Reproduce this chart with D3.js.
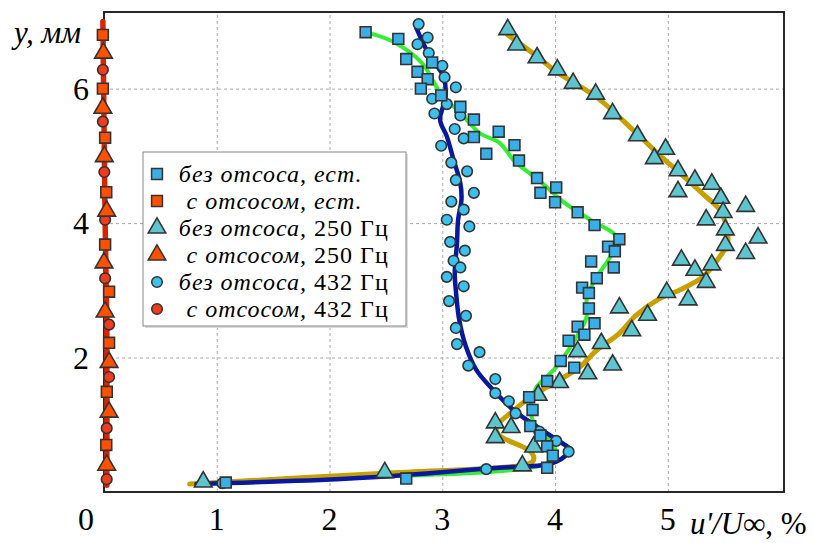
<!DOCTYPE html>
<html>
<head>
<meta charset="utf-8">
<script src="https://cdn.jsdelivr.net/npm/d3@7"></script>
<style>
  body { margin: 0; background: #fff; }
  svg { display: block; font-family: "Liberation Serif", "DejaVu Serif", serif; }
</style>
</head>
<body>
<div id="plot"></div>
<script>
// без отсоса, естественные пульсации (квадраты) и аппроксимация
var sqNoSuct = [[2.32,6.84],[2.61,6.74],[2.68,6.44],[2.91,6.39],[2.78,6.25],[2.87,6.14],[2.81,6.00],
  [2.99,5.90],[3.16,5.73],[3.28,5.54],[3.50,5.36],[3.28,5.28],[3.39,5.03],[3.64,5.16],[3.68,4.93],
  [3.84,4.67],[3.87,4.45],[4.01,4.53],[4.00,4.31],[4.20,4.16],[4.35,3.97],[4.57,3.76],[4.47,3.65],
  [4.53,3.58],[4.32,3.43],[4.52,3.34],[4.37,3.18],[4.24,3.04],[4.30,2.96],[4.30,2.73],[4.35,2.51],
  [4.20,2.46],[4.26,2.34],[4.12,2.25],[4.05,1.95],[4.17,1.85],[3.93,1.65],[3.77,1.41],[3.80,1.22],
  [3.78,0.98],[3.87,0.84],[3.93,0.68],[3.98,0.54],[3.93,0.36],[2.68,0.20],[1.08,0.14]];
var fitNat = [[2.32,6.84],[2.56,6.70],[2.82,6.38],[2.92,6.11],[2.99,5.91],[3.16,5.64],[3.33,5.34],
  [3.51,5.19],[3.64,4.92],[3.87,4.62],[4.07,4.32],[4.31,4.05],[4.55,3.78],[4.49,3.50],[4.35,3.15],
  [4.28,2.86],[4.28,2.61],[4.22,2.39],[4.01,1.86],[3.84,1.57],[3.79,1.37],[3.80,1.07],[3.87,0.92],
  [3.95,0.77],[4.01,0.58],[3.93,0.43],[2.18,0.21],[0.76,0.12]];

// без отсоса, 250 Гц (треугольники)
var triNoSuct = [[3.58,6.88],[3.66,6.65],[3.84,6.46],[4.02,6.28],[4.16,6.08],[4.36,5.92],[4.51,5.63],
  [4.73,5.30],[4.98,5.10],[4.88,4.96],[5.09,4.78],[5.24,4.64],[5.39,4.58],[5.09,4.47],[5.47,4.37],
  [5.49,4.16],[5.69,4.25],[5.34,4.05],[5.51,3.90],[5.80,3.78],[5.51,3.67],[5.69,3.55],[5.12,3.45],
  [5.39,3.38],[5.24,3.30],[5.34,3.12],[4.99,2.97],[4.57,2.74],[5.18,2.86],[4.82,2.63],[4.68,2.40],
  [4.41,2.21],[4.20,2.09],[4.51,1.89],[4.29,1.76],[4.04,1.63],[3.85,1.44],[3.47,1.03],[3.61,0.96],
  [3.47,0.81],[3.81,0.67],[3.71,0.39],[2.49,0.29],[0.88,0.15]];
var fit250 = [[3.58,6.80],[3.84,6.48],[4.01,6.25],[4.37,5.87],[4.72,5.34],[4.94,4.99],[5.11,4.74],
  [5.34,4.39],[5.46,4.20],[5.52,3.95],[5.53,3.70],[5.46,3.50],[5.31,3.20],[5.11,3.01],[4.93,2.88],
  [4.72,2.63],[4.57,2.36],[4.37,2.11],[4.22,1.86],[4.01,1.64],[3.79,1.42],[3.63,1.21],[3.48,0.97],
  [3.50,0.85],[3.76,0.63],[3.81,0.53],[3.80,0.45],[3.72,0.40],[2.49,0.28],[0.76,0.12]];

// без отсоса, 432 Гц (кружки)
var cirNoSuct = [[2.79,6.96],[2.87,6.76],[2.78,6.66],[2.88,6.53],[3.00,6.34],[3.02,6.17],[3.12,6.02],
  [2.91,5.85],[3.04,5.77],[2.93,5.63],[3.16,5.60],[3.11,5.40],[3.19,5.26],[2.99,5.15],[3.08,4.90],
  [3.22,4.77],[3.12,4.64],[3.28,4.45],[3.08,4.32],[3.19,4.20],[3.04,4.05],[3.24,3.95],[3.07,3.72],
  [3.20,3.59],[3.10,3.44],[3.16,3.34],[3.04,3.20],[3.19,3.06],[3.06,2.84],[3.21,2.62],[3.12,2.44],
  [3.13,2.20],[3.33,2.08],[3.23,1.88],[3.47,1.68],[3.47,1.47],[3.59,1.35],[3.65,1.17],[3.86,0.90],
  [4.01,0.76],[4.12,0.60],[3.39,0.34],[1.05,0.13]];
var fit432 = [[2.77,6.90],[2.89,6.48],[3.01,6.18],[3.03,5.88],[2.98,5.54],[3.04,5.29],[3.10,4.94],
  [3.16,4.59],[3.17,4.35],[3.14,4.05],[3.13,3.70],[3.11,3.25],[3.12,3.00],[3.15,2.56],[3.21,2.16],
  [3.30,1.82],[3.45,1.52],[3.63,1.22],[3.84,0.97],[3.95,0.85],[4.07,0.72],[4.13,0.63],[4.01,0.45],
  [3.39,0.35],[2.18,0.20],[0.82,0.12]];

// с отсосом (все режимы)
var sqSuct = [[-0.01,6.80],[-0.01,6.00],[0.01,5.27],[0.02,4.46],[0.01,3.68],[0.045,2.98],[0.045,2.22],[0.025,1.49],[0.02,0.70]];
var triSuct = [[-0.005,6.53],[-0.01,5.71],[0.003,4.99],[0.024,4.18],[0.0,3.41],[0.01,2.68],[0.045,1.93],[0.045,1.19],[0.024,0.40]];
var cirSuct = [[-0.01,6.28],[-0.01,5.51],[0.003,4.76],[0.01,4.05],[0.01,3.18],[0.045,2.49],[0.045,1.71],[0.024,0.95],[0.024,0.19]];
var fitSuct = [[-0.01,7.0],[0.0,5.5],[0.01,4.0],[0.025,2.5],[0.025,0.1]];

var xTicks = [1, 2, 3, 4, 5];
var yTicks = [2, 4, 6];
var legendHead = ["без отсоса,", "с отсосом,", "без отсоса,", "с отсосом,", "без отсоса,", "с отсосом,"];
var legendTail = ["ест.", "ест.", "250 Гц", "250 Гц", "432 Гц", "432 Гц"];

var W = 813, H = 543;
var pL = 104, pR = 784, pT = 12, pB = 492;

var x = d3.scaleLinear().domain([0, 6.03]).range([pL, pR]);
var y = d3.scaleLinear().domain([0, 7.14]).range([pB, pT]);

var svg = d3.select("#plot").append("svg")
  .attr("width", W)
  .attr("height", H);

// сетка
svg.append("g")
  .attr("transform", "translate(0," + pB + ")")
  .call(d3.axisBottom(x).tickValues(xTicks).tickSize(-(pB - pT)).tickFormat(""))
  .call(function(g){ g.select(".domain").remove(); })
  .selectAll("line")
  .attr("stroke", "#aaa")
  .attr("stroke-dasharray", "3,3");
svg.append("g")
  .attr("transform", "translate(" + pL + ",0)")
  .call(d3.axisLeft(y).tickValues(yTicks).tickSize(-(pR - pL)).tickFormat(""))
  .call(function(g){ g.select(".domain").remove(); })
  .selectAll("line")
  .attr("stroke", "#aaa")
  .attr("stroke-dasharray", "3,3");

// рамка
svg.append("rect")
  .attr("x", pL).attr("y", pT)
  .attr("width", pR - pL).attr("height", pB - pT)
  .attr("fill", "none")
  .attr("stroke", "#111")
  .attr("stroke-width", 1.8);

// подписи осей
svg.selectAll(".xlab")
  .data(xTicks)
  .enter()
  .append("text")
  .attr("x", function(d){ return x(d); })
  .attr("y", 530)
  .attr("text-anchor", "middle")
  .style("font-size", "32px")
  .text(function(d){ return d; });
svg.append("text")
  .attr("x", 86).attr("y", 530)
  .attr("text-anchor", "middle")
  .style("font-size", "32px")
  .text("0");
svg.selectAll(".ylab")
  .data(yTicks)
  .enter()
  .append("text")
  .attr("x", 89)
  .attr("y", function(d){ return y(d) + 11; })
  .attr("text-anchor", "end")
  .style("font-size", "32px")
  .text(function(d){ return d; });

svg.append("text")
  .attr("x", 14).attr("y", 43)
  .style("font-size", "31px")
  .style("font-style", "italic")
  .text("y, мм");

var xl = svg.append("text")
  .attr("x", 690).attr("y", 534)
  .style("font-size", "31px");
xl.append("tspan").style("font-style", "italic").text("u'/U∞");
xl.append("tspan").text(", %");

// линии аппроксимации
var line = d3.line()
  .x(function(d){ return x(d[0]); })
  .y(function(d){ return y(d[1]); })
  .curve(d3.curveCatmullRom.alpha(0.5));

function drawLine(data, color, w){
  svg.append("path")
    .datum(data)
    .attr("d", line)
    .attr("fill", "none")
    .attr("stroke", color)
    .attr("stroke-width", w)
    .attr("stroke-linejoin", "round")
    .attr("stroke-linecap", "round");
}
drawLine(fitNat, "#33ee33", 4);
drawLine(fit250, "#c8a000", 5);
drawLine(fit432, "#0818a0", 4.5);
drawLine(fitSuct, "#dd2200", 5.5);

// маркеры
var symSq = d3.symbol().type(d3.symbolSquare).size(118);
var symTri = d3.symbol().type(d3.symbolTriangle).size(135);
var symCir = d3.symbol().type(d3.symbolCircle).size(88);

function drawPts(data, sym, fill){
  svg.selectAll(null)
    .data(data)
    .enter()
    .append("path")
    .attr("d", sym)
    .attr("transform", function(d){ return "translate(" + x(d[0]) + "," + y(d[1]) + ")"; })
    .attr("fill", fill)
    .attr("stroke", "#333")
    .attr("stroke-width", 1.6);
}
drawPts(cirNoSuct, symCir, "#3cc0ee");
drawPts(triNoSuct, symTri, "#5cc5d0");
drawPts(sqNoSuct, symSq, "#3aaee6");
drawPts(cirSuct, symCir, "#f03c1e");
drawPts(triSuct, symTri, "#ff5000");
drawPts(sqSuct, symSq, "#ff5000");

// легенда
var legSyms = [symSq, symSq, symTri, symTri, symCir, symCir];
var legFill = ["#3aaee6", "#ff5000", "#5cc5d0", "#ff5000", "#3cc0ee", "#f03c1e"];
var legRow = d3.scaleLinear().domain([0, 5]).range([174, 309]);

svg.append("rect")
  .attr("x", 145).attr("y", 154)
  .attr("width", 263).attr("height", 174)
  .attr("fill", "#ddd");
svg.append("rect")
  .attr("x", 143).attr("y", 152)
  .attr("width", 263).attr("height", 174)
  .attr("fill", "#fff")
  .attr("stroke", "#888")
  .attr("stroke-width", 1);

var leg = svg.selectAll(".leg")
  .data(legendHead)
  .enter()
  .append("g")
  .attr("transform", function(d, i){ return "translate(0," + legRow(i) + ")"; });
leg.append("path")
  .attr("d", function(d, i){ return legSyms[i](); })
  .attr("transform", "translate(157,0)")
  .attr("fill", function(d, i){ return legFill[i]; })
  .attr("stroke", "#333")
  .attr("stroke-width", 1.5);
leg.append("text")
  .attr("x", 307).attr("y", 8)
  .attr("text-anchor", "end")
  .style("font-size", "24px")
  .style("letter-spacing", "1px")
  .style("font-style", "italic")
  .text(function(d){ return d; });
leg.append("text")
  .attr("x", 314).attr("y", 8)
  .style("font-size", "24px")
  .style("letter-spacing", "1px")
  .style("font-style", function(d, i){ return i < 2 ? "italic" : "normal"; })
  .text(function(d, i){ return legendTail[i]; });
</script>
</body>
</html>
